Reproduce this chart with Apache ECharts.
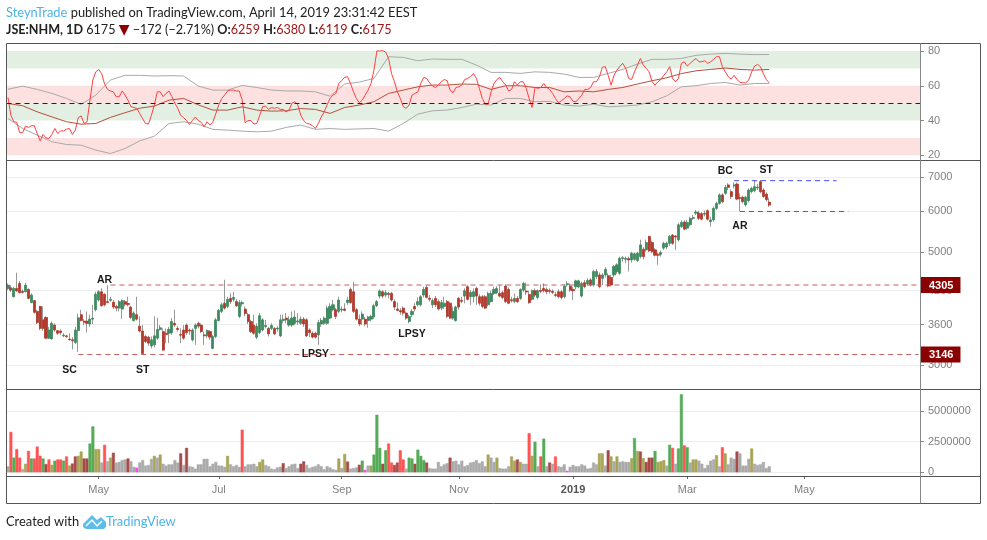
<!DOCTYPE html>
<html>
<head>
<meta charset="utf-8">
<style>
  html, body { margin: 0; padding: 0; background: #fff; }
  #chart { width: 987px; height: 540px; }
</style>
<script src="https://cdn.jsdelivr.net/npm/echarts@6/dist/echarts.min.js"></script>
</head>
<body>
<div id="chart"></div>
<script>
//**************** price candles ****************//
var opens = [
  4240,4252,4083,4240,4336,4183,4176,4220,3977,4012,
  3822,3908,3679,3719,3387,3377,3593,3503,3498,3422,
  3422,3372,3362,3321,3503,3765,3656,3656,3610,3690,
  3850,4023,4176,4130,3994,4017,3983,3908,3879,3862,
  3994,3960,3897,3667,3765,3575,3498,3412,3402,3270,
  3285,3387,3523,3488,3463,3463,3473,3621,3539,3442,
  3513,3593,3513,3361,3539,3621,3593,3437,3422,3488,
  3234,3412,3667,3822,3965,3908,4053,4035,3994,3736,
  3954,3862,3765,3650,3593,3402,3473,3513,3570,3539,
  3539,3539,3529,3422,3667,3708,3593,3593,3621,3644,
  3621,3690,3679,3513,3463,3463,3437,3610,3621,3621,
  3708,3850,3850,3822,3845,3862,3977,4220,4176,3850,
  3690,3690,3690,3667,3690,3725,3920,4095,4176,4114,
  4145,4145,3994,3862,3834,3879,3793,3650,3765,3908,
  3937,3937,4114,4258,4053,3937,4053,3994,3879,3908,
  3994,3965,3708,3667,4053,4017,4095,4271,4083,4083,
  4240,4083,4083,4083,3937,3994,4145,4158,4145,4158,
  4284,4220,4029,3994,4053,4053,4207,4190,4126,4035,
  4195,4070,4202,4240,4220,4202,4183,4120,4176,4176,
  4083,4310,4284,4220,4271,4271,4095,4350,4325,4405,
  4305,4470,4505,4437,4505,4490,4455,4505,4575,4540,
  4850,4835,4850,4819,4835,4805,4895,5060,5045,5360,
  5215,5045,4945,4945,5085,5110,5195,5395,5370,5280,
  5605,5720,5565,5650,5817,5955,5960,5940,5925,6020,
  5730,5775,6085,6225,6465,6512,6763,6560,6735,6790,
  6390,6400,6180,6300,6560,6590,6670,6865,6610,6490,6259
];
var closes = [
  4302,4207,4240,4190,4158,4164,4302,4053,4114,3805,
  3633,3539,3539,3387,3513,3621,3513,3463,3473,3432,
  3412,3362,3346,3513,3713,3667,3639,3621,3690,3708,
  4130,4176,3920,3937,3977,4035,3897,3879,3994,4012,
  3948,3943,3719,3793,3690,3498,3158,3336,3311,3361,
  3422,3523,3549,3209,3442,3523,3650,3593,3523,3432,
  3387,3473,3498,3513,3593,3575,3488,3422,3503,3402,
  3412,3679,3839,3937,3879,4035,3994,4070,3920,3977,
  3977,3782,3650,3488,3463,3575,3748,3679,3587,3452,
  3587,3452,3544,3679,3690,3679,3679,3708,3725,3661,
  3690,3610,3422,3473,3402,3402,3633,3667,3708,3879,
  3908,3937,3736,4023,3862,3839,4023,3977,3822,3690,
  3610,3776,3610,3725,3736,3920,3994,4190,4095,4158,
  4126,4023,3897,3839,3811,3793,3708,3736,3822,3862,
  3994,4083,4220,4070,4035,4012,3937,3862,3977,3965,
  3736,3708,3822,3897,3897,4000,4195,4035,4164,4176,
  4095,3965,3908,3879,4145,4145,4220,4240,4095,4070,
  3994,3965,4012,4053,3994,4220,4336,4170,3977,4195,
  4114,4195,4183,4195,4176,4183,4164,4107,4083,4070,
  4284,4330,4207,4195,4385,4385,4338,4275,4392,4305,
  4575,4575,4275,4505,4620,4285,4305,4680,4715,4855,
  4870,4855,4819,4970,4955,4970,5160,4895,5215,5020,
  5004,4925,4925,4985,5195,5195,5360,5195,5345,5650,
  5710,5540,5710,5817,5840,5985,5817,5795,5950,5795,
  5775,6085,6225,6465,6271,6690,6690,6420,6763,6345,
  6365,6271,6400,6610,6660,6710,6700,6560,6420,6330,6175
];
var lows = [
  4207,4176,4070,4176,4145,4145,4164,4035,3965,3782,
  3610,3511,3503,3372,3372,3362,3488,3437,3437,3402,
  3387,3352,3219,3300,3183,3650,3593,3473,3564,3610,
  3822,3994,3908,3908,3965,3994,3862,3822,3822,3690,
  3908,3908,3690,3650,3667,3473,3148,3311,3270,3234,
  3250,3361,3503,3199,3311,3311,3437,3564,3488,3311,
  3361,3437,3437,3336,3285,3539,3463,3285,3387,3361,
  3219,3387,3650,3793,3850,3879,3954,3994,3897,3708,
  3908,3736,3610,3463,3437,3372,3447,3488,3539,3412,
  3513,3432,3488,3402,3621,3621,3564,3564,3593,3593,
  3593,3564,3402,3402,3387,3382,3285,3564,3593,3593,
  3690,3822,3690,3793,3805,3822,3937,3954,3793,3667,
  3575,3593,3575,3549,3650,3690,3897,4053,4053,4070,
  4053,3994,3845,3822,3765,3748,3679,3621,3725,3822,
  3908,3908,4070,4053,3994,3879,3897,3839,3839,3862,
  3708,3690,3679,3650,3850,3965,3965,4012,3937,3977,
  3937,3920,3879,3862,3908,3977,4114,4130,4070,4035,
  3965,3948,3977,3965,3965,4023,4176,4114,3954,4012,
  4070,4035,4145,4164,4130,4145,4130,4070,4053,4035,
  4053,4271,4176,4023,4220,4240,4070,4240,4290,4275,
  4275,4420,4240,4305,4455,4260,4275,4455,4525,4505,
  4785,4750,4575,4765,4805,4780,4855,4835,5004,4995,
  4965,4895,4715,4895,5045,5060,5135,5160,5045,5235,
  5565,5510,5525,5605,5775,5905,5775,5760,5870,5760,
  5605,5730,6040,6180,6225,6465,6610,6345,6660,6310,
  6000,6225,6135,6245,6512,6540,6610,6512,6380,6271,6119
];
var highs = [
  4336,4302,4271,4550,4385,4220,4350,4240,4145,4023,
  3850,3920,3908,3736,3564,3650,3621,3513,3523,3463,
  3437,3463,3402,3564,3782,3850,3690,3822,3765,3937,
  4176,4207,4240,4145,4302,4083,4023,3937,4023,4035,
  4023,4083,3920,3822,4083,3736,3593,3437,3422,3412,
  3736,3713,3593,3539,3539,3564,3708,3850,3575,3539,
  3593,3621,3539,3539,3621,3650,3621,3488,3523,3513,
  3437,3708,3862,3977,4410,4083,4145,4176,4035,4023,
  4012,3908,3793,3679,3765,3621,3793,3708,3679,3564,
  3621,3564,3575,3765,3765,3793,3736,3822,3839,3793,
  3736,3725,3708,3539,3488,3488,3679,3708,3736,3920,
  3965,4023,3879,4083,3908,3965,4083,4258,4366,3879,
  3765,3822,3725,3748,3765,3954,4023,4220,4207,4207,
  4176,4176,4035,3977,3879,3908,3822,3765,3862,3965,
  4070,4114,4271,4302,4114,4053,4095,4035,4023,4083,
  4023,3994,3908,3920,4083,4083,4240,4302,4207,4240,
  4271,4130,4114,4114,4176,4195,4271,4284,4302,4195,
  4320,4258,4083,4145,4095,4240,4366,4350,4195,4220,
  4240,4220,4320,4336,4258,4240,4220,4176,4220,4207,
  4320,4385,4336,4271,4410,4410,4370,4403,4440,4440,
  4610,4625,4555,4540,4665,4540,4505,4715,4750,4895,
  4910,4895,4895,5004,4985,5004,5285,5110,5285,5375,
  5260,5085,4985,5030,5235,5235,5395,5420,5395,5690,
  5765,5765,5780,5860,5905,6040,6020,5985,6020,6060,
  5860,6135,6271,6512,6512,6763,6815,6630,6840,6840,
  6512,6440,6440,6660,6710,6916,6790,6916,6660,6540,6380
];

//**************** volume, in thousands ****************//
var volume_k = [
  490,3300,1200,1900,1200,270,700,1750,1130,1130,
  2100,1350,1130,680,1050,620,950,1050,1050,950,
  1300,550,720,1300,1350,1700,1130,1130,2350,3750,
  1900,1900,800,2250,900,1200,1600,800,850,1000,
  1050,1130,900,450,380,800,1000,550,600,1100,
  1350,1200,1450,700,550,650,650,1000,800,1550,
  600,2000,500,450,300,650,650,1100,1100,500,
  700,850,550,550,450,1350,650,500,600,450,
  3480,500,650,650,700,500,850,1050,600,500,
  300,250,400,450,750,350,500,650,700,350,
  700,900,600,350,450,500,650,500,250,500,
  400,250,200,1130,350,1500,880,300,350,400,
  620,950,200,550,550,1450,4700,2000,700,1800,
  2350,800,600,800,1800,1050,300,1200,1130,700,
  1850,1350,1000,800,350,300,300,850,500,650,
  750,1200,900,950,650,950,500,600,800,850,
  1000,750,900,500,1450,1200,850,1200,350,300,
  300,500,1300,950,1050,850,700,700,3200,1350,
  2500,500,1300,2750,500,800,700,1300,500,450,
  650,130,450,600,500,500,650,550,300,350,
  800,650,1550,1550,550,1800,1300,900,1300,850,
  900,850,850,1150,2800,1750,1700,1150,850,1200,
  1200,1750,850,900,1000,550,2250,2000,700,1950,
  6380,2200,2050,800,1050,1050,950,700,350,600,
  950,1050,1400,500,2050,1550,650,1200,1100,1700,
  1550,550,550,1100,1950,700,600,650,850,350,500
];
// n normal, o olive, r red, g green, d dark red, m magenta
var volume_class = (
  "nrgrrnorgr" + "rrgdrogrrg" + "roddooddgg" + "oonrnodnnn" + "ndnnmnnnnn" +
  "ononnnnnnd" + "ndnnnnnnnn" + "nnnnnonnnn" + "rnnnnnoonn" + "nnnndnnnnn" +
  "ddnnnnnnnn" + "nnnonodnnn" + "dgmnogggdg" + "rrddrrnggd" + "gggdnnnnnn" +
  "ndnnnnnnnn" + "nnnnonnonn" + "nnoodonnro" + "gnrgndnrnn" + "nmnnnnnnnn" +
  "nnoondonon" + "nnnogododd" + "dgooongrng" + "grgnoonnnn" + "nnonronnnd" +
  "nnnnonnnnnn"
).split("");

//**************** RSI panel ****************//
var rsi_values = [
  53.3,43,39.3,39,33,33,36.8,36,37,37,
  32.5,28.3,32,30,29.7,32,35.4,32.5,34,34,
  35,35.4,32,34.5,41.6,42.7,38.3,39.3,51.7,63.3,
  68,69.4,67,61,58,57,56.5,53.7,53.7,57,
  54.6,51.7,48,47.5,47,44,41,38.3,38,43,
  49,56.5,56.5,53.7,55.6,57,53.7,50,47,43,
  41.6,40,37.7,40,42,40,39,36.4,39.3,37.4,
  39.3,44,49,52.7,54.6,57,57.5,57.5,57,57,
  51.7,38.7,40,40,38,38.3,43,48,48.3,46.4,
  47.5,47,47.5,46.4,46.4,45,46,50,50.8,49,
  43,40,38.3,38,37,35.4,38.3,42,45,49,
  52.7,54.6,55.6,61.3,63,64.8,65.2,61.3,56.5,52.7,
  50.2,51.7,54.6,57.5,61.3,69,80,80,80.2,79.4,
  75.7,67,62.3,56.5,52.7,48,47,48.9,54.6,55.6,
  56.5,61.3,64.8,64.2,61.7,59.8,59,60.4,62.3,63.6,
  62.9,57.5,56,59,59.4,60.4,63.6,64.2,65.2,67,
  64.2,58.5,52.7,49.4,49.4,56.5,61.3,63.6,64.8,62.3,
  60.4,57,57.9,62.3,60.4,62.3,62.3,58.5,52.7,47.5,
  59,58.5,59,61.3,59,57.9,55.6,52.7,50.2,51.4,
  52.7,54.2,53.6,51,50.8,52.7,54.6,57.9,57.9,59,
  62.3,62.3,65.2,70.6,71,66,60.4,66,69,71.3,
  72.9,70,64.2,63.6,68,71.9,75.7,71.9,70,68,
  62.3,60.4,62.3,63.6,66,68,71,64.2,62.3,64.2,
  72.9,73.8,71.3,72.9,74.4,75.7,73.8,73.8,74.4,72.9,
  73.8,75.2,76.7,76.7,71,68,65.2,63.8,66,63.6,
  62,61.7,61.7,63.3,68,71.3,72.3,71,67,63.6,61.7
];
// the three slow lines
var slow_index = [
  0,5,10,15,20,25,30,35,40,45,50,55,60,65,70,75,80,85,90,95,100,105,110,115,120,125,
  130,135,140,145,150,155,160,165,170,175,180,185,190,195,200,205,210,215,220,225,
  230,235,240,245,250,255,260
];
var rsi_ma = [
  49.8,48.5,45,42.1,39.3,37.9,38.3,41.8,44.5,47.1,48.3,51.7,52.7,49,46,46,47.9,46,45.4,45.6,46.9,46.4,44.1,47.5,48.9,50.8,
  55.6,57.5,59.4,60.4,60.4,61,60.8,57.9,60,60,59,59,56.5,57,56.5,57.9,59,61,62.9,64.6,
  67,68.6,69.4,70.2,69.4,69,69.4
];
var rsi_upper = [
  58,59.8,57.9,55.6,52.7,49.3,54.6,63.3,66,66,65.6,65.8,65.6,59.8,57.5,57.5,60.2,59,57.5,57,57,56.5,54,61,62.1,64.2,
  76.7,76.3,74.4,75.4,75.2,75.2,71.9,67.7,67.7,67.1,68,67.7,66.7,64.8,64.8,67.1,69.4,72.5,75.2,75.2,
  75.7,77.5,78.2,78.6,78.2,77.9,78
];
var rsi_lower = [
  41.2,35.4,31.6,27.8,26.2,25.8,23,21,23.9,28.3,31,38.3,39.3,37.9,34.9,34.5,33.9,33.5,33.9,36,37.4,34.9,35.4,34.9,35.2,35.4,
  33.9,38.3,43.7,45.6,46,47.5,49.4,48.9,52.7,52.7,50.8,51,48.9,48.3,49.4,47.9,48.3,48.9,50.8,54.2,
  59.4,60,61.3,61.9,60.4,61.3,61.3
];
var rsi_ticks = [20, 40, 60, 80];
var green_zones = [[40, 50], [70, 80]];
var red_zones = [[20, 30], [50, 60]];

//**************** axes and notes ****************//
var bar_slots = 312;
var month_index = [31, 72, 114, 154, 193, 232, 272];
var month_names = ["May", "Jul", "Sep", "Nov", "2019", "Mar", "May"];
var price_ticks = [3000, 3600, 4200, 5000, 6000, 7000];
var price_tags = [3146, 4305];
var volume_ticks = [0, 2500000, 5000000];
var red_lines = [[24, 3146, 311], [35, 4305, 311]];
var blue_lines = [[248, 6895, 283], [250, 6000, 287]];
var note_texts = ["AR", "SC", "ST", "LPSY", "LPSY", "BC", "ST", "AR"];
var note_index = [33, 21, 46, 105, 138, 245, 259, 250];
var note_price = [4403, 2935, 2935, 3153, 3451, 7205, 7235, 5620];

//**************** build ****************//
var categories = [];
for (var i = 0; i < bar_slots; i++) {
  var at = month_index.indexOf(i);
  categories.push(at >= 0 ? month_names[at] : "");
}

var class_colors = { n: "#aaaaaa", o: "#a9a557", r: "#ff5454", g: "#56ab58", d: "#a84a4a", m: "#ff44ff" };
var up_color = "#3f8a60";
var down_color = "#b23a2c";
var axis_text = "#808080";
var font_axis = "'Liberation Sans', Arial, sans-serif";
var font_head = "12.9px Lato, sans-serif";
var font_quote = "12.6px Lato, sans-serif";
var font_quote_bold = "bold 12.6px Lato, sans-serif";

var wick_data = [];
var body_data = [];
var volume_data = [];
for (var k = 0; k < opens.length; k++) {
  var bar_color = class_colors[volume_class[k]];
  wick_data.push([opens[k], closes[k], lows[k], highs[k]]);
  body_data.push([opens[k], closes[k], Math.min(opens[k], closes[k]), Math.max(opens[k], closes[k])]);
  volume_data.push({
    value: volume_k[k] * 1000,
    itemStyle: { color: bar_color, borderColor: bar_color, borderWidth: 0.5 }
  });
}

function slow_points(values) {
  return values.map(function (v, n) { return [slow_index[n], v]; });
}

function zone_areas(zones, color) {
  return zones.map(function (z) {
    return [{ yAxis: z[0], itemStyle: { color: color } }, { yAxis: z[1] }];
  });
}

function plain_x(grid_index, show_labels) {
  return {
    type: "category",
    gridIndex: grid_index,
    data: categories,
    boundaryGap: true,
    axisLine: { show: false, onZero: false },
    axisTick: {
      show: show_labels,
      alignWithLabel: true,
      length: 3,
      lineStyle: { color: "#666" },
      customValues: month_index
    },
    splitLine: { show: false },
    axisLabel: {
      show: show_labels,
      color: axis_text,
      fontSize: 11,
      fontFamily: font_axis,
      margin: 8,
      customValues: month_index,
      formatter: function (v) { return v === "2019" ? "{b|2019}" : v; },
      rich: { b: { fontWeight: "bold", fontSize: 11, color: "#555", fontFamily: font_axis } }
    }
  };
}

function right_y(grid_index, extra) {
  var axis = {
    gridIndex: grid_index,
    position: "right",
    axisLine: { show: false },
    axisTick: { show: true, length: 4, lineStyle: { color: "#888" } },
    splitLine: { show: true, lineStyle: { color: "#eeeeee", width: 1 } },
    axisLabel: {
      color: axis_text, fontSize: 11, fontFamily: font_axis, margin: 8, padding: [5, 0, 0, 0],
      showMinLabel: true, showMaxLabel: true,
      formatter: function (v) { return String(v); }
    }
  };
  for (var key in extra) axis[key] = extra[key];
  return axis;
}

function custom_ticks(axis, values) {
  axis.axisTick.customValues = values;
  axis.axisLabel.customValues = values;
  return axis;
}

var rsi_axis = custom_ticks(right_y(0, { type: "value", min: 17, max: 84.6 }), rsi_ticks);
rsi_axis.splitLine.show = false;
var price_axis = custom_ticks(right_y(1, { type: "log", logBase: 10, min: 2692, max: 7552 }), price_ticks);
var tag_axis = custom_ticks(right_y(1, { type: "log", logBase: 10, min: 2692, max: 7552 }), price_tags);
tag_axis.splitLine.show = false;
tag_axis.axisTick.show = false;
tag_axis.axisLabel.margin = 1;
tag_axis.axisLabel.padding = 0;
tag_axis.axisLabel.formatter = function (v) { return "{t|" + v + "}"; };
tag_axis.axisLabel.rich = {
  t: {
    backgroundColor: "#8b0000", color: "#fff", fontWeight: "bold", fontSize: 11,
    fontFamily: font_axis, padding: [3, 7, 2, 8]
  }
};
var volume_axis = custom_ticks(right_y(2, { type: "value", min: -300000, max: 6800000 }), volume_ticks);

var note_points = note_texts.map(function (t, n) {
  return { coord: [note_index[n], note_price[n]], value: t };
});

// each level is a plain two point dashed line on the price scale
function level_series(level, color, width) {
  return {
    type: "line",
    name: "level " + level[1],
    xAxisIndex: 1, yAxisIndex: 1,
    data: [[level[0], level[1]], [level[2], level[1]]],
    showSymbol: false,
    z: 3,
    lineStyle: { color: color, type: [5, 4], width: width }
  };
}

var level_list = red_lines.map(function (r) { return level_series(r, "#c95f5f", 1.2); })
  .concat(blue_lines.map(function (b) { return level_series(b, "#4a4aff", 1); }));

var option = {
  animation: false,
  backgroundColor: "#ffffff",
  grid: [
    { left: 6.5, width: 913.5, top: 43, height: 117.5 },
    { left: 6.5, width: 913.5, top: 160.5, height: 228.5 },
    { left: 6.5, width: 913.5, top: 389, height: 87 }
  ],
  xAxis: [plain_x(0, false), plain_x(1, false), plain_x(2, true)],
  yAxis: [rsi_axis, price_axis, tag_axis, volume_axis],
  series: [
    {
      type: "line",
      name: "RSI upper",
      xAxisIndex: 0, yAxisIndex: 0,
      data: slow_points(rsi_upper),
      showSymbol: false,
      lineStyle: { color: "#a9a9a9", width: 1 },
      markArea: {
        silent: true,
        data: zone_areas(green_zones, "#e4efe4").concat(zone_areas(red_zones, "#fde1e1"))
      },
      markLine: {
        silent: true,
        symbol: "none",
        label: { show: false },
        lineStyle: { color: "#222", type: [5, 4], width: 1 },
        data: [{ yAxis: 50 }]
      }
    },
    {
      type: "line",
      name: "RSI lower",
      xAxisIndex: 0, yAxisIndex: 0,
      data: slow_points(rsi_lower),
      showSymbol: false,
      lineStyle: { color: "#a9a9a9", width: 1 }
    },
    {
      type: "line",
      name: "RSI average",
      xAxisIndex: 0, yAxisIndex: 0,
      data: slow_points(rsi_ma),
      showSymbol: false,
      lineStyle: { color: "#b5503c", width: 1 }
    },
    {
      type: "line",
      name: "RSI",
      xAxisIndex: 0, yAxisIndex: 0,
      data: rsi_values,
      showSymbol: false,
      lineStyle: { color: "#ff4040", width: 1 }
    },
    {
      type: "line",
      name: "tags",
      xAxisIndex: 1, yAxisIndex: 2,
      data: [],
      showSymbol: false
    }
  ].concat(level_list, [
    {
      type: "candlestick",
      name: "wicks",
      xAxisIndex: 1, yAxisIndex: 1,
      data: wick_data,
      barWidth: 1,
      itemStyle: { color: "#999999", color0: "#999999", borderColor: "#999999", borderColor0: "#999999", borderWidth: 1 },
      markPoint: {
        silent: true,
        symbol: "rect",
        symbolSize: 1,
        itemStyle: { color: "transparent" },
        label: {
          show: true,
          position: "inside",
          color: "#1a1a1a",
          fontSize: 10.5,
          fontWeight: "bold",
          fontFamily: font_axis,
          formatter: function (p) { return p.value; }
        },
        data: note_points
      }
    },
    {
      type: "candlestick",
      name: "bodies",
      xAxisIndex: 1, yAxisIndex: 1,
      data: body_data,
      barWidth: 2.6,
      itemStyle: { color: up_color, color0: down_color, borderColor: up_color, borderColor0: down_color, borderWidth: 0.8 }
    },
    {
      type: "bar",
      name: "volume",
      xAxisIndex: 2, yAxisIndex: 3,
      data: volume_data,
      barWidth: 3
    }
  ]),
  graphic: [
    { type: "rect", z: 100, silent: true, shape: { x: 6.5, y: 43.5, width: 974, height: 460 }, style: { fill: "none", stroke: "#555", lineWidth: 1 } },
    { type: "line", z: 100, silent: true, shape: { x1: 6.5, y1: 160.5, x2: 980.5, y2: 160.5 }, style: { stroke: "#555", lineWidth: 1 } },
    { type: "line", z: 100, silent: true, shape: { x1: 6.5, y1: 389.5, x2: 980.5, y2: 389.5 }, style: { stroke: "#555", lineWidth: 1 } },
    { type: "line", z: 100, silent: true, shape: { x1: 6.5, y1: 476.5, x2: 980.5, y2: 476.5 }, style: { stroke: "#555", lineWidth: 1 } },
    { type: "line", z: 100, silent: true, shape: { x1: 920.5, y1: 43.5, x2: 920.5, y2: 503.5 }, style: { stroke: "#888", lineWidth: 1 } },
    {
      type: "text", left: 6, top: 6,
      style: {
        text: "{blue|SteynTrade} published on TradingView.com, April 14, 2019 23:31:42 EEST",
        fill: "#222", font: font_head,
        rich: { blue: { fill: "#4db4e6", font: font_head } }
      }
    },
    {
      type: "text", left: 6, top: 23,
      style: {
        text: "{b|JSE:NHM, 1D} 6175 {t|▼} −172 (−2.71%) {b|O:}{r|6259} {b|H:}{r|6380} {b|L:}{r|6119} {b|C:}{r|6175}",
        fill: "#222", font: font_quote,
        rich: {
          b: { fill: "#222", font: font_quote_bold },
          r: { fill: "#a01818", font: font_quote },
          t: { fill: "#8b0000", font: "14px 'DejaVu Sans', sans-serif" }
        }
      }
    },
    {
      type: "text", left: 6, top: 515,
      style: { text: "Created with", fill: "#222", font: font_head }
    },
    {
      type: "polygon", silent: true,
      shape: { points: [[83, 524], [92, 515], [97, 520], [101, 517], [106, 522], [106, 527], [104, 529], [86, 529], [83, 527]] },
      style: { fill: "#5cbde9" }
    },
    {
      type: "polyline", silent: true,
      shape: { points: [[86, 526], [92, 520], [97, 526], [102, 521]] },
      style: { stroke: "#ffffff", lineWidth: 1.5, fill: "none" }
    },
    {
      type: "text", left: 106, top: 515,
      style: { text: "TradingView", fill: "#4db4e6", font: font_head }
    }
  ]
};

var chart = echarts.init(document.getElementById("chart"), null, { renderer: "canvas" });
chart.setOption(option);
</script>
</body>
</html>
